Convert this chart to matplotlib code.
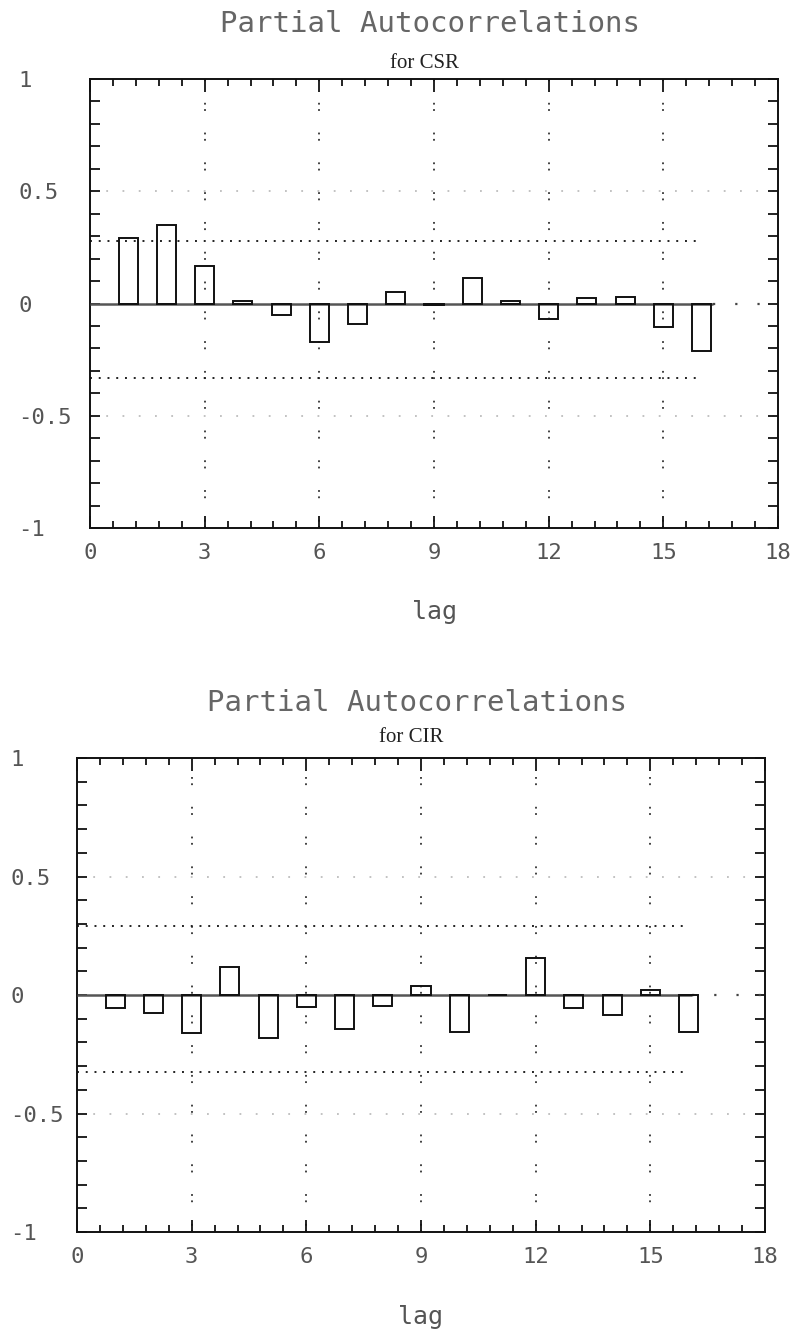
import matplotlib
matplotlib.use("Agg")
import matplotlib.pyplot as plt
from matplotlib.ticker import MultipleLocator, FixedLocator

# ---- data ----
lags = [1, 2, 3, 4, 5, 6, 7, 8, 9, 10, 11, 12, 13, 14, 15, 16]
pacf_csr = [0.29, 0.35, 0.165, 0.01, -0.053, -0.17, -0.09, 0.05, -0.005,
            0.115, 0.01, -0.07, 0.025, 0.027, -0.105, -0.21]
pacf_cir = [-0.055, -0.075, -0.16, 0.118, -0.18, -0.05, -0.145, -0.045, 0.04,
            -0.155, 0.0, 0.156, -0.055, -0.085, 0.02, -0.155]
ci_csr = [0.28, -0.33]
ci_cir = [0.29, -0.325]
ci_end = 16.0
zero_line_end = [16.3, 16.1]
x_ticks = [0, 3, 6, 9, 12, 15, 18]
x_tick_labels = ["0", "3", "6", "9", "12", "15", "18"]
y_ticks = [-1, -0.5, 0, 0.5, 1]
y_tick_labels = ["-1", "-0.5", "0", "0.5", "1"]
main_title = "Partial Autocorrelations"
sub_titles = ["for CSR", "for CIR"]
x_label = "lag"

W, H = 796, 1332
fig = plt.figure(figsize=(W / 100, H / 100), dpi=100)

mono = "DejaVu Sans Mono"
txt_col = "#555555"

panels = [
    dict(l=90, r=778, t=79, b=528, ty=24, sy=63, vals=pacf_csr, ci=ci_csr,
         zend=zero_line_end[0], sub=sub_titles[0], lab=-0.16, ylx=18),
    dict(l=77, r=765, t=758, b=1232, ty=703, sy=737, vals=pacf_cir, ci=ci_cir,
         zend=zero_line_end[1], sub=sub_titles[1], lab=-0.155, ylx=10),
]

for p in panels:
    ax = fig.add_axes([p["l"] / W, 1 - p["b"] / H, (p["r"] - p["l"]) / W,
                       (p["b"] - p["t"]) / H])
    ax.set_xlim(0, 18)
    ax.set_ylim(-1, 1)

    for xv in x_ticks[1:-1]:
        ax.axvline(xv, color="#333333", lw=1.3,
                   linestyle=(0, (1, 2.5, 1, 12)), zorder=1)
    for yv in (0.5, -0.5):
        ax.axhline(yv, color="#bdbdbd", lw=1.3, linestyle=(0, (1, 8)), zorder=1)

    ax.hlines(p["ci"], 0, ci_end, colors="#222222", lw=1.4,
              linestyles=[(0, (1, 3.5))], zorder=2)

    ax.hlines(0, 0, p["zend"], colors="#555555", lw=1.8, zorder=3)
    ax.hlines(0, p["zend"], 18, colors="#444444", lw=1.6,
              linestyles=[(0, (1, 9))], zorder=3)

    ax.bar(lags, p["vals"], width=0.5, fill=False, edgecolor="#111111",
           linewidth=1.4, zorder=4)

    ax.xaxis.set_major_locator(FixedLocator(x_ticks))
    ax.set_xticklabels(x_tick_labels)
    ax.xaxis.set_minor_locator(MultipleLocator(0.6))
    ax.yaxis.set_major_locator(FixedLocator(y_ticks))
    ax.set_yticklabels(y_tick_labels)
    ax.yaxis.set_minor_locator(MultipleLocator(0.1))
    ypad = (p["l"] - p["ylx"]) * 0.72
    ax.tick_params(axis="both", which="both", direction="in", top=True,
                   right=True, color="#111111", width=1.3)
    ax.tick_params(axis="x", which="major", length=9, pad=11)
    ax.tick_params(axis="x", which="minor", length=5)
    ax.tick_params(axis="y", which="major", length=7, pad=ypad)
    ax.tick_params(axis="y", which="minor", length=7)
    for lab in ax.get_xticklabels() + ax.get_yticklabels():
        lab.set_fontfamily(mono)
        lab.set_fontsize(16)
        lab.set_color(txt_col)
    for lab in ax.get_yticklabels():
        lab.set_ha("left")

    for sp in ax.spines.values():
        sp.set_color("#111111")
        sp.set_linewidth(1.4)

    ax.set_xlabel(x_label, fontfamily=mono, fontsize=18, color=txt_col)
    ax.xaxis.set_label_coords(0.5, p["lab"])
    ax.xaxis.label.set_va("top")

    xc = (p["l"] + p["r"]) / 2 / W
    fig.text(xc - 0.005, 1 - p["ty"] / H, main_title, ha="center", va="center",
             fontfamily=mono, fontsize=21, color="#666666")
    fig.text(xc - 0.012, 1 - p["sy"] / H, p["sub"], ha="center", va="center",
             fontfamily="Liberation Serif", fontsize=15, color="#222222")

fig.savefig("out.png", dpi=100, facecolor="white")
